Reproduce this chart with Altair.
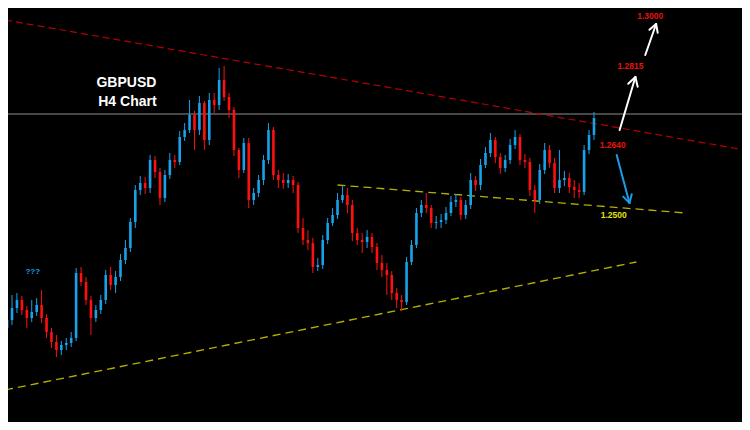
import altair as alt
import pandas as pd

# ---- candle data (H4 bars) ----
first_open = 1.2270
closes = [1.2286, 1.2310, 1.2326, 1.2306, 1.2290, 1.2302, 1.2316, 1.2290, 1.2262, 1.2242,
          1.2226, 1.2236, 1.2240, 1.2250, 1.2380, 1.2362, 1.2326, 1.2290, 1.2306, 1.2326,
          1.2376, 1.2356, 1.2372, 1.2406, 1.2430, 1.2482, 1.2546, 1.2560, 1.2550, 1.2606,
          1.2582, 1.2530, 1.2576, 1.2606, 1.2602, 1.2652, 1.2666, 1.2696, 1.2666, 1.2720,
          1.2646, 1.2726, 1.2716, 1.2766, 1.2732, 1.2706, 1.2626, 1.2586, 1.2640, 1.2526,
          1.2540, 1.2566, 1.2606, 1.2666, 1.2576, 1.2566, 1.2560, 1.2566, 1.2556, 1.2470,
          1.2446, 1.2440, 1.2392, 1.2396, 1.2446, 1.2480, 1.2496, 1.2526, 1.2536, 1.2516,
          1.2460, 1.2446, 1.2442, 1.2452, 1.2432, 1.2400, 1.2386, 1.2376, 1.2340, 1.2326,
          1.2322, 1.2402, 1.2436, 1.2500, 1.2516, 1.2510, 1.2480, 1.2482, 1.2486, 1.2500,
          1.2522, 1.2526, 1.2496, 1.2516, 1.2566, 1.2556, 1.2596, 1.2620, 1.2646, 1.2612,
          1.2590, 1.2606, 1.2636, 1.2652, 1.2606, 1.2602, 1.2546, 1.2526, 1.2586, 1.2626,
          1.2600, 1.2550, 1.2566, 1.2570, 1.2552, 1.2546, 1.2542, 1.2626, 1.2656, 1.2690]
highs = [1.2300, 1.2336, 1.2340, 1.2334, 1.2314, 1.2326, 1.2330, 1.2346, 1.2298, 1.2270,
         1.2256, 1.2244, 1.2250, 1.2262, 1.2390, 1.2392, 1.2372, 1.2334, 1.2316, 1.2336,
         1.2386, 1.2392, 1.2384, 1.2418, 1.2446, 1.2490, 1.2556, 1.2574, 1.2572, 1.2616,
         1.2614, 1.2590, 1.2586, 1.2620, 1.2616, 1.2664, 1.2680, 1.2726, 1.2704, 1.2734,
         1.2724, 1.2740, 1.2740, 1.2790, 1.2794, 1.2740, 1.2712, 1.2630, 1.2650, 1.2650,
         1.2550, 1.2576, 1.2616, 1.2680, 1.2672, 1.2586, 1.2580, 1.2578, 1.2574, 1.2562,
         1.2490, 1.2466, 1.2450, 1.2410, 1.2456, 1.2490, 1.2510, 1.2540, 1.2556, 1.2550,
         1.2526, 1.2470, 1.2460, 1.2466, 1.2460, 1.2440, 1.2416, 1.2400, 1.2384, 1.2350,
         1.2336, 1.2412, 1.2446, 1.2510, 1.2526, 1.2540, 1.2516, 1.2494, 1.2498, 1.2512,
         1.2534, 1.2538, 1.2532, 1.2526, 1.2580, 1.2574, 1.2608, 1.2632, 1.2660, 1.2652,
         1.2620, 1.2616, 1.2648, 1.2666, 1.2658, 1.2618, 1.2610, 1.2556, 1.2598, 1.2640,
         1.2636, 1.2610, 1.2626, 1.2584, 1.2580, 1.2566, 1.2560, 1.2636, 1.2666, 1.2702]
lows = [1.2250, 1.2276, 1.2300, 1.2296, 1.2270, 1.2282, 1.2294, 1.2280, 1.2250, 1.2230,
        1.2212, 1.2216, 1.2226, 1.2232, 1.2244, 1.2354, 1.2316, 1.2256, 1.2282, 1.2298,
        1.2318, 1.2346, 1.2340, 1.2364, 1.2398, 1.2422, 1.2470, 1.2536, 1.2538, 1.2540,
        1.2570, 1.2516, 1.2522, 1.2568, 1.2590, 1.2596, 1.2644, 1.2660, 1.2626, 1.2656,
        1.2626, 1.2636, 1.2700, 1.2706, 1.2724, 1.2690, 1.2614, 1.2570, 1.2580, 1.2510,
        1.2516, 1.2532, 1.2556, 1.2598, 1.2566, 1.2550, 1.2548, 1.2550, 1.2540, 1.2460,
        1.2436, 1.2426, 1.2380, 1.2384, 1.2388, 1.2438, 1.2474, 1.2488, 1.2520, 1.2500,
        1.2444, 1.2436, 1.2420, 1.2430, 1.2420, 1.2386, 1.2372, 1.2336, 1.2326, 1.2310,
        1.2304, 1.2316, 1.2396, 1.2430, 1.2492, 1.2500, 1.2470, 1.2468, 1.2470, 1.2478,
        1.2494, 1.2512, 1.2486, 1.2488, 1.2508, 1.2544, 1.2546, 1.2590, 1.2612, 1.2600,
        1.2578, 1.2582, 1.2598, 1.2628, 1.2596, 1.2590, 1.2534, 1.2500, 1.2518, 1.2578,
        1.2590, 1.2540, 1.2540, 1.2554, 1.2540, 1.2530, 1.2530, 1.2536, 1.2618, 1.2646]

# ---- trend lines (bar number, price) ----
red_line_bar = [-0.4, 149.6]
red_line_price = [1.2886, 1.2626]
gray_level = 1.2698
upper_yellow_bar = [67.0, 137.6]
upper_yellow_price = [1.2556, 1.2500]
lower_yellow_bar = [-0.4, 127.6]
lower_yellow_price = [1.2146, 1.2402]

# ---- labels ----
label_text = ["GBPUSD", "H4 Chart"]
label_bar = [24.2, 24.4]
label_price = [1.2760, 1.2722]
level_text = ["1.3000", "1.2815", "1.2640", "1.2500"]
level_bar = [130.4, 126.4, 122.8, 123.0]
level_price = [1.2895, 1.2795, 1.2637, 1.2496]
level_color = ["#e8140c", "#e8140c", "#e8140c", "#e6e210"]
qmark_bar = [5.2]
qmark_price = [1.2382]

# ---- arrows: shaft (tail->tip) and two head wings ----
arrow_tail_bar = [124.2, 129.4, 123.6]
arrow_tail_price = [1.2666, 1.2816, 1.2616]
arrow_tip_bar = [127.4, 131.6, 126.2]
arrow_tip_price = [1.2772, 1.2878, 1.2520]
wing_a_bar = [125.94, 130.24, 124.92]
wing_a_price = [1.27584, 1.28664, 1.25328]
wing_b_bar = [127.86, 131.92, 126.66]
wing_b_price = [1.27526, 1.28604, 1.25374]
arrow_color = ["white", "white", "blue"]

UP = "#17a2ea"
DOWN = "#ff1010"

opens = [first_open] + closes[:-1]
n = len(closes)
candles = pd.DataFrame({
    "bar": list(range(n)),
    "open": opens,
    "close": closes,
    "high": highs,
    "low": lows,
})
candles["dir"] = ["up" if c >= o else "down" for o, c in zip(opens, closes)]

xs = alt.Scale(domain=[1.2, 148.0], nice=False, zero=False)
ys = alt.Scale(domain=[1.2082, 1.2910], nice=False, zero=False)
X = lambda f: alt.X(f, type="quantitative", scale=xs, axis=None)
Y = lambda f: alt.Y(f, type="quantitative", scale=ys, axis=None)
dir_color = alt.Color("dir:N", scale=alt.Scale(domain=["up", "down"], range=[UP, DOWN]), legend=None)

base = alt.Chart(candles)
wicks = base.mark_rule(strokeWidth=1, clip=True).encode(
    x=X("bar"), y=Y("low"), y2="high", color=dir_color)
bodies = base.mark_bar(size=2.6, clip=True).encode(
    x=X("bar"), y=Y("open"), y2="close", color=dir_color)

def seg(bars, prices, color, dash=None, width=1.0):
    df = pd.DataFrame({"bar": bars, "price": prices})
    kw = dict(color=color, strokeWidth=width, clip=True)
    if dash:
        kw["strokeDash"] = dash
    return alt.Chart(df).mark_line(**kw).encode(x=X("bar"), y=Y("price"))

red_line = seg(red_line_bar, red_line_price, "#b40000", [7, 4], 1.2)
gray_line = seg([-1, 150], [gray_level, gray_level], "#8f8f8f", None, 1)
upper_line = seg(upper_yellow_bar, upper_yellow_price, "#b4b000", [8, 5], 1.3)
lower_line = seg(lower_yellow_bar, lower_yellow_price, "#b4b000", [8, 5], 1.3)

titles = alt.Chart(pd.DataFrame({"t": label_text, "bar": label_bar, "price": label_price})).mark_text(
    font="Liberation Sans", fontWeight="bold", fontSize=14, color="white",
    align="center", baseline="middle").encode(x=X("bar"), y=Y("price"), text="t:N")

levels = alt.Chart(pd.DataFrame({"t": level_text, "bar": level_bar, "price": level_price,
                                 "c": level_color})).mark_text(
    font="Liberation Sans", fontWeight="bold", fontSize=8.5,
    align="center", baseline="middle").encode(
    x=X("bar"), y=Y("price"), text="t:N", color=alt.Color("c:N", scale=None))

qmark = alt.Chart(pd.DataFrame({"t": ["???"], "bar": qmark_bar, "price": qmark_price})).mark_text(
    font="Liberation Sans", fontWeight="bold", fontSize=8, color=UP,
    align="center", baseline="middle").encode(x=X("bar"), y=Y("price"), text="t:N")

arrow_rows = []
for i in range(len(arrow_tail_bar)):
    col = "#ffffff" if arrow_color[i] == "white" else "#1a9de6"
    arrow_rows.append(dict(b1=arrow_tail_bar[i], p1=arrow_tail_price[i],
                           b2=arrow_tip_bar[i], p2=arrow_tip_price[i], c=col))
    arrow_rows.append(dict(b1=wing_a_bar[i], p1=wing_a_price[i],
                           b2=arrow_tip_bar[i], p2=arrow_tip_price[i], c=col))
    arrow_rows.append(dict(b1=wing_b_bar[i], p1=wing_b_price[i],
                           b2=arrow_tip_bar[i], p2=arrow_tip_price[i], c=col))
arrows = alt.Chart(pd.DataFrame(arrow_rows)).mark_rule(strokeWidth=2, strokeCap="round").encode(
    x=X("b1"), y=Y("p1"), x2="b2", y2="p2", color=alt.Color("c:N", scale=None))

chart = alt.layer(
    gray_line, red_line, upper_line, lower_line, wicks, bodies, titles, levels, qmark, arrows
).properties(width=734, height=414, background="#000000", padding=0).configure_view(
    stroke=None, fill="#000000")

chart.save("out.html", embed_options={"renderer": "svg", "actions": False})
